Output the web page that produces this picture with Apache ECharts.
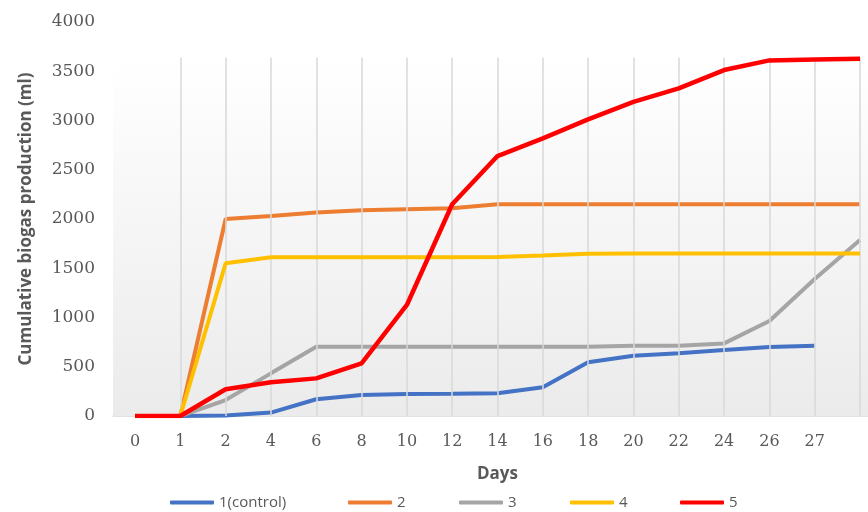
<!DOCTYPE html>
<html>
<head>
<meta charset="utf-8">
<script src="https://cdn.jsdelivr.net/npm/echarts@6/dist/echarts.min.js"></script>
<style>html,body{margin:0;padding:0;background:#fff;}#c{width:868px;height:512px;}</style>
</head>
<body>
<div id="c"></div>
<script>
var categories = ['0','1','2','4','6','8','10','12','14','16','18','20','22','24','26','27',''];
var s1 = [0,0,5,35,170,213,223,226,230,291,545,612,636,670,700,714,null];
var s2 = [0,0,2000,2030,2065,2090,2100,2110,2150,2150,2150,2150,2150,2150,2150,2150,2150];
var s3 = [0,0,162,433,703,703,703,703,703,703,703,714,714,737,964,1390,1786];
var s4 = [0,0,1550,1611,1611,1611,1611,1611,1614,1630,1647,1650,1650,1650,1650,1650,1650];
var s5 = [0,0,271,342,382,535,1127,2150,2639,2819,3011,3190,3326,3512,3610,3620,3627];
var seriesNames = ['1(control)','2','3','4','5'];
var yTicks = {min:0, max:4000, interval:500};

var colors = ['#4472C4','#ED7D31','#A5A5A5','#FFC000','#FF0000'];
var gridTopValue = 3640;
var chart = echarts.init(document.getElementById('c'), null, {renderer:'canvas'});
var gridLines = categories.slice(1).map(function(c){
  return [{coord:[c,0]},{coord:[c,gridTopValue]}];
});
var allData = [s1,s2,s3,s4,s5];
var series = [{
  name:'bg', type:'line', xAxisIndex:1, yAxisIndex:1, data:[], silent:true, z:0,
  markArea:{silent:true, label:{show:false},
    itemStyle:{color:{type:'linear', x:0, y:0, x2:0, y2:1,
      colorStops:[{offset:0,color:'#ffffff'},{offset:1,color:'#ebebeb'}]}, borderWidth:0},
    data:[[{coord:[0,0]},{coord:[1,1]}]]}
},{
  name:'grid', type:'line', data:[], z:1, silent:true,
  markLine:{silent:true, symbol:['none','none'], label:{show:false},
    lineStyle:{color:'#d9d9d9', width:1.5, type:'solid'}, data:gridLines}
}];
allData.forEach(function(d,i){
  series.push({name:seriesNames[i], type:'line', data:d, showSymbol:false, symbol:'none',
    z:2+i, lineStyle:{color:colors[i], width: i===4?4.5:4}, itemStyle:{color:colors[i]},
    connectNulls:false, animation:false});
});
var legendLefts = [165,343,454,565,675];
var legends = seriesNames.map(function(n,i){
  return {data:[n], left:legendLefts[i], top:490, icon:'roundRect', itemWidth:44, itemHeight:4,
    textStyle:{fontFamily:'Open Sans', fontSize:15, color:'#595959'}, selectedMode:false};
});
chart.setOption({
  animation:false,
  grid:[
    {left:135, right:8, top:22, bottom:96},
    {left:113, right:0, top:58, bottom:96}
  ],
  legend:legends,
  xAxis:[{type:'category', data:categories, boundaryGap:false, gridIndex:0,
    name:'Days', nameLocation:'middle', nameGap:50,
    nameTextStyle:{fontFamily:'Open Sans', fontWeight:'bold', fontSize:17, color:'#595959'},
    axisLine:{show:false}, axisTick:{show:false}, splitLine:{show:false},
    axisLabel:{interval:0, margin:18, fontFamily:'DejaVu Serif', fontSize:16, color:'#595959'}},
   {type:'value', gridIndex:1, min:0, max:1,
    axisLine:{show:true, onZero:false, lineStyle:{color:'#d9d9d9', width:1.5}},
    axisTick:{show:false}, axisLabel:{show:false}, splitLine:{show:false}}],
  yAxis:[{type:'value', min:yTicks.min, max:yTicks.max, interval:yTicks.interval, gridIndex:0,
    name:'Cumulative biogas production (ml)', nameLocation:'middle', nameGap:100,
    nameTextStyle:{fontFamily:'Open Sans', fontWeight:'bold', fontSize:17, color:'#595959'},
    axisLine:{show:false}, axisTick:{show:false}, splitLine:{show:false},
    axisLabel:{margin:40, fontFamily:'DejaVu Serif', fontSize:17, color:'#595959',
      formatter:function(v){return String(v);}}},
   {type:'value', gridIndex:1, min:0, max:1, show:false}],
  series:series
});
</script>
</body>
</html>
